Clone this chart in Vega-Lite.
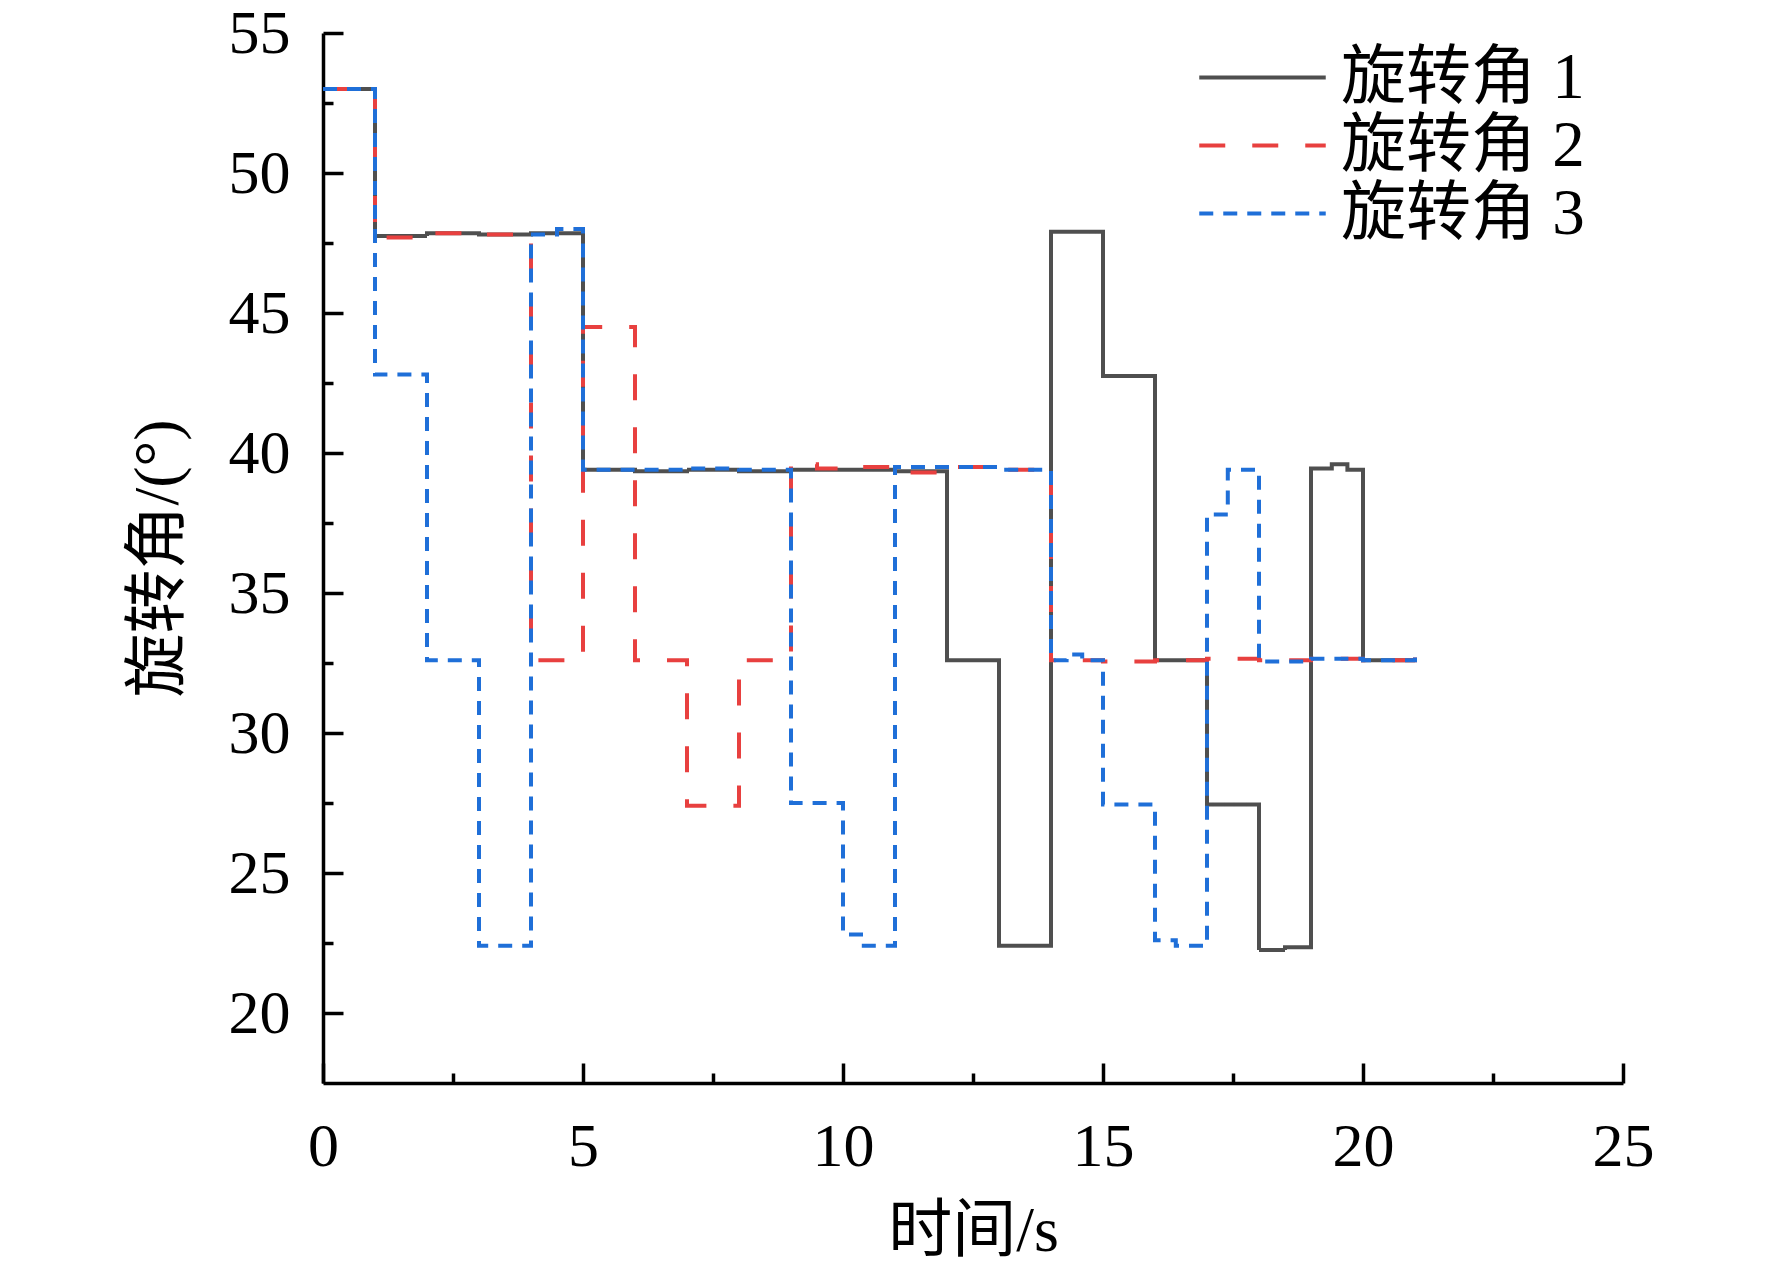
{
  "$schema": "https://vega.github.io/schema/vega-lite/v6.json",
  "width": 1300,
  "height": 1050,
  "autosize": {"type": "none"},
  "padding": {"left": 323, "top": 33, "right": 149, "bottom": 188},
  "background": "white",
  "config": {
    "view": {"stroke": null},
    "axis": {
      "domainColor": "black",
      "domainWidth": 3.5,
      "tickColor": "black",
      "tickWidth": 3.5,
      "grid": false,
      "labelFont": "Liberation Serif",
      "labelFontSize": 62,
      "labelColor": "black",
      "labelFlush": false,
      "labelOverlap": false,
      "labelBound": false,
      "titleFont": "Liberation Serif, Noto Sans CJK SC",
      "titleFontSize": 64,
      "titleFontWeight": "normal",
      "titleColor": "black"
    }
  },
  "datasets": {
    "angles": [
      {"t": 0, "v": 53.0, "s": "旋转角 1"},
      {"t": 1, "v": 47.75, "s": "旋转角 1"},
      {"t": 2, "v": 47.85, "s": "旋转角 1"},
      {"t": 3, "v": 47.8, "s": "旋转角 1"},
      {"t": 4, "v": 47.85, "s": "旋转角 1"},
      {"t": 5, "v": 39.4, "s": "旋转角 1"},
      {"t": 6, "v": 39.35, "s": "旋转角 1"},
      {"t": 7, "v": 39.4, "s": "旋转角 1"},
      {"t": 8, "v": 39.35, "s": "旋转角 1"},
      {"t": 9, "v": 39.4, "s": "旋转角 1"},
      {"t": 10, "v": 39.4, "s": "旋转角 1"},
      {"t": 11, "v": 39.35, "s": "旋转角 1"},
      {"t": 12, "v": 32.6, "s": "旋转角 1"},
      {"t": 13, "v": 22.4, "s": "旋转角 1"},
      {"t": 14, "v": 47.9, "s": "旋转角 1"},
      {"t": 15, "v": 42.75, "s": "旋转角 1"},
      {"t": 16, "v": 32.6, "s": "旋转角 1"},
      {"t": 17, "v": 27.45, "s": "旋转角 1"},
      {"t": 18, "v": 22.25, "s": "旋转角 1"},
      {"t": 18.5, "v": 22.35, "s": "旋转角 1"},
      {"t": 19, "v": 39.45, "s": "旋转角 1"},
      {"t": 19.4, "v": 39.6, "s": "旋转角 1"},
      {"t": 19.7, "v": 39.4, "s": "旋转角 1"},
      {"t": 20, "v": 32.6, "s": "旋转角 1"},
      {"t": 21, "v": 32.6, "s": "旋转角 1"},

      {"t": 0, "v": 53.0, "s": "旋转角 2"},
      {"t": 1, "v": 47.7, "s": "旋转角 2"},
      {"t": 2, "v": 47.85, "s": "旋转角 2"},
      {"t": 3, "v": 47.8, "s": "旋转角 2"},
      {"t": 4, "v": 32.6, "s": "旋转角 2"},
      {"t": 5, "v": 44.5, "s": "旋转角 2"},
      {"t": 6, "v": 32.6, "s": "旋转角 2"},
      {"t": 7, "v": 27.4, "s": "旋转角 2"},
      {"t": 8, "v": 32.6, "s": "旋转角 2"},
      {"t": 9, "v": 39.6, "s": "旋转角 2"},
      {"t": 9.5, "v": 39.45, "s": "旋转角 2"},
      {"t": 10, "v": 39.5, "s": "旋转角 2"},
      {"t": 11, "v": 39.3, "s": "旋转角 2"},
      {"t": 12, "v": 39.5, "s": "旋转角 2"},
      {"t": 13, "v": 39.4, "s": "旋转角 2"},
      {"t": 14, "v": 32.6, "s": "旋转角 2"},
      {"t": 15, "v": 32.55, "s": "旋转角 2"},
      {"t": 16, "v": 32.6, "s": "旋转角 2"},
      {"t": 17, "v": 32.65, "s": "旋转角 2"},
      {"t": 18, "v": 32.6, "s": "旋转角 2"},
      {"t": 19, "v": 32.65, "s": "旋转角 2"},
      {"t": 20, "v": 32.6, "s": "旋转角 2"},
      {"t": 21, "v": 32.7, "s": "旋转角 2"},

      {"t": 0, "v": 53.0, "s": "旋转角 3"},
      {"t": 1, "v": 42.8, "s": "旋转角 3"},
      {"t": 2, "v": 32.6, "s": "旋转角 3"},
      {"t": 3, "v": 22.4, "s": "旋转角 3"},
      {"t": 4, "v": 47.8, "s": "旋转角 3"},
      {"t": 4.5, "v": 48.0, "s": "旋转角 3"},
      {"t": 5, "v": 39.4, "s": "旋转角 3"},
      {"t": 6, "v": 39.4, "s": "旋转角 3"},
      {"t": 7, "v": 39.45, "s": "旋转角 3"},
      {"t": 8, "v": 39.4, "s": "旋转角 3"},
      {"t": 9, "v": 27.5, "s": "旋转角 3"},
      {"t": 10, "v": 22.8, "s": "旋转角 3"},
      {"t": 10.4, "v": 22.4, "s": "旋转角 3"},
      {"t": 11, "v": 39.5, "s": "旋转角 3"},
      {"t": 12, "v": 39.5, "s": "旋转角 3"},
      {"t": 13, "v": 39.4, "s": "旋转角 3"},
      {"t": 14, "v": 32.6, "s": "旋转角 3"},
      {"t": 14.3, "v": 32.8, "s": "旋转角 3"},
      {"t": 14.6, "v": 32.6, "s": "旋转角 3"},
      {"t": 15, "v": 27.45, "s": "旋转角 3"},
      {"t": 16, "v": 22.6, "s": "旋转角 3"},
      {"t": 16.4, "v": 22.4, "s": "旋转角 3"},
      {"t": 17, "v": 37.8, "s": "旋转角 3"},
      {"t": 17.4, "v": 39.4, "s": "旋转角 3"},
      {"t": 18, "v": 32.55, "s": "旋转角 3"},
      {"t": 19, "v": 32.65, "s": "旋转角 3"},
      {"t": 20, "v": 32.6, "s": "旋转角 3"},
      {"t": 21, "v": 32.7, "s": "旋转角 3"}
    ]
  },
  "layer": [
    {
      "data": {"name": "angles"},
      "mark": {"type": "line", "interpolate": "step-after", "strokeWidth": 4, "strokeCap": "butt"},
      "encoding": {
        "x": {
          "field": "t", "type": "quantitative",
          "scale": {"domain": [0, 25], "nice": false, "zero": false},
          "axis": {
            "orient": "bottom",
            "values": [0, 5, 10, 15, 20, 25],
            "format": "d",
            "tickSize": -20,
            "labelPadding": 53,
            "title": "时间/s",
            "titlePadding": 22
          }
        },
        "y": {
          "field": "v", "type": "quantitative",
          "scale": {"domain": [17.5, 55], "nice": false, "zero": false},
          "axis": {
            "orient": "left",
            "values": [20, 25, 30, 35, 40, 45, 50, 55],
            "format": "d",
            "tickSize": -20,
            "labelPadding": 53,
            "title": "旋转角/(°)",
            "titlePadding": 38
          }
        },
        "color": {
          "field": "s", "type": "nominal",
          "scale": {"domain": ["旋转角 1", "旋转角 2", "旋转角 3"], "range": ["#4f4f4f", "#e8403f", "#1f6fd8"]},
          "legend": {
            "title": null,
            "orient": "none",
            "legendX": 907,
            "legendY": 12,
            "padding": 0,
            "symbolType": "M-4,0H4",
            "symbolSize": 1000,
            "symbolStrokeWidth": 4,
            "symbolFillColor": "transparent",
            "labelFont": "Liberation Serif, Noto Sans CJK SC",
            "labelFontSize": 65,
            "labelColor": "black",
            "labelOffset": 46,
            "rowPadding": 2,
            "labelLimit": 0
          }
        },
        "strokeDash": {
          "field": "s", "type": "nominal",
          "scale": {"domain": ["旋转角 1", "旋转角 2", "旋转角 3"], "range": [[1, 0], [26, 27], [14, 10]]},
          "legend": {
            "title": null,
            "orient": "none",
            "legendX": 907,
            "legendY": 12,
            "padding": 0,
            "symbolType": "M-4,0H4",
            "symbolSize": 1000,
            "symbolStrokeWidth": 4,
            "symbolFillColor": "transparent",
            "labelFont": "Liberation Serif, Noto Sans CJK SC",
            "labelFontSize": 65,
            "labelColor": "black",
            "labelOffset": 46,
            "rowPadding": 2,
            "labelLimit": 0
          }
        }
      }
    },
    {
      "data": {"values": []},
      "mark": "point",
      "encoding": {
        "x": {
          "field": "t", "type": "quantitative",
          "scale": {"domain": [0, 25], "nice": false, "zero": false},
          "axis": {
            "orient": "bottom",
            "values": [2.5, 7.5, 12.5, 17.5, 22.5],
            "labels": false,
            "domain": false,
            "tickSize": -10,
            "title": null
          }
        },
        "y": {
          "field": "v", "type": "quantitative",
          "scale": {"domain": [17.5, 55], "nice": false, "zero": false},
          "axis": {
            "orient": "left",
            "values": [22.5, 27.5, 32.5, 37.5, 42.5, 47.5, 52.5],
            "labels": false,
            "domain": false,
            "tickSize": -10,
            "title": null
          }
        }
      }
    }
  ],
  "resolve": {"axis": {"x": "independent", "y": "independent"}}
}
